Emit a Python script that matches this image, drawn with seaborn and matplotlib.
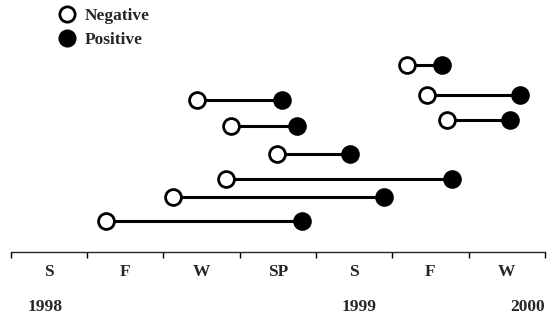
import matplotlib

matplotlib.use("Agg")
import matplotlib.pyplot as plt
import seaborn as sns
import pandas as pd
from matplotlib.lines import Line2D

# season index: 0 = start of Summer 1998, one unit per season
seasons = ["S", "F", "W", "SP", "S", "F", "W"]
years = ["1998", "1999", "2000"]
year_pos = [0.45, 4.57, 7.0]

subject_y = [187, 157, 132, 152, 126, 98, 73, 55, 31]
negative_x = [5.19, 5.46, 5.71, 2.44, 2.88, 3.49, 2.82, 2.12, 1.25]
positive_x = [5.65, 6.67, 6.54, 3.56, 3.75, 4.44, 5.78, 4.89, 3.81]

df = pd.DataFrame({"y": subject_y, "neg": negative_x, "pos": positive_x})

sns.set_style("white")
plt.rcParams["font.family"] = ["Liberation Serif", "DejaVu Serif"]
plt.rcParams["font.weight"] = "bold"

fig = plt.figure(figsize=(5.52, 3.18), dpi=100)
ax = fig.add_axes([10.7 / 552, 1 - 252 / 318, (545 - 10.7) / 552, 252 / 318])

ax.hlines(df["y"], df["neg"], df["pos"], color="black", linewidth=2.2, zorder=1)
sns.scatterplot(data=df, x="neg", y="y", ax=ax, s=130, color="white",
                edgecolor="black", linewidth=2, zorder=2)
sns.scatterplot(data=df, x="pos", y="y", ax=ax, s=130, color="black",
                edgecolor="black", linewidth=2, zorder=2)

ax.set_xlim(0, 7)
ax.set_ylim(0, 252)
ax.set_yticks([])
ax.set_xlabel("")
ax.set_ylabel("")
for side in ["top", "right", "left"]:
    ax.spines[side].set_visible(False)
ax.spines["bottom"].set_linewidth(1)

ax.set_xticks(range(8))
ax.set_xticklabels([])
ax.set_xticks([i + 0.5 for i in range(7)], minor=True)
ax.set_xticklabels(seasons, minor=True, fontsize=12.5, fontweight="bold")
ax.tick_params(axis="x", which="major", direction="out", length=4, width=1,
               bottom=True, color="black")
ax.tick_params(axis="x", which="minor", length=0, pad=9)

for label, xp in zip(years, year_pos):
    ax.text(xp, -55, label, ha="right" if label == "2000" else "center",
            va="center", fontsize=12.5, fontweight="bold", clip_on=False)

handles = [
    Line2D([], [], marker="o", linestyle="", markersize=11, markerfacecolor="white",
           markeredgecolor="black", markeredgewidth=2),
    Line2D([], [], marker="o", linestyle="", markersize=11, markerfacecolor="black",
           markeredgecolor="black", markeredgewidth=2),
]
ax.legend(handles, ["Negative", "Positive"], loc="upper left",
          bbox_to_anchor=(0.06, 0.995), frameon=False, handletextpad=0.0,
          labelspacing=0.45, borderaxespad=0,
          prop={"family": "Liberation Serif", "weight": "bold", "size": 12.5})

fig.savefig("out.png", dpi=100)
